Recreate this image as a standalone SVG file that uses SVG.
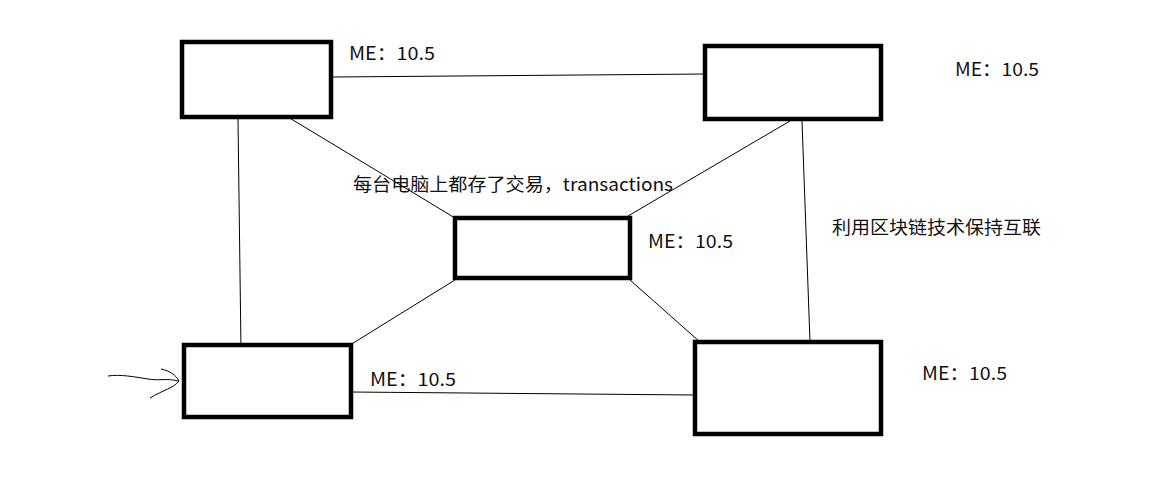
<svg xmlns="http://www.w3.org/2000/svg" width="1165" height="486" viewBox="0 0 1165 486">
<style>
.node{fill:#fff;stroke:#000;stroke-width:4.5}
.conn{stroke:#000;stroke-width:1;fill:none}
.t{font-family:"Noto Sans CJK SC","Microsoft YaHei",sans-serif;font-size:18px;fill:#111}
</style>
<rect width="1165" height="486" fill="#fff"/>
<g id="connectors">
<path class="conn" d="M333,77 L705,74"/>
<path class="conn" d="M238,119 L241,350"/>
<path class="conn" d="M288,117 L455,218"/>
<path class="conn" d="M790,121 L628,216"/>
<path class="conn" d="M802,121 L810,342"/>
<path class="conn" d="M455,280 L350,345"/>
<path class="conn" d="M630,280 L700,342"/>
<path class="conn" d="M351,392 L695,395"/>
<path class="conn" d="M108,376 C120,374 135,377 148,379 C158,381 168,378 178,381"/>
<path class="conn" d="M161,369 C170,371 176,375 179,381 C174,388 163,390 150,398"/>
</g>
<g id="node-tl"><rect class="node" x="182" y="42" width="149" height="75"/></g>
<g id="node-tr"><rect class="node" x="705" y="46" width="176" height="73"/></g>
<g id="node-center"><rect class="node" x="455" y="218" width="175" height="60"/></g>
<g id="node-bl"><rect class="node" x="184" y="345" width="167" height="72"/></g>
<g id="node-br"><rect class="node" x="695" y="342" width="186" height="92"/></g>
<g id="labels">
<text class="t" x="349" y="60" textLength="86" lengthAdjust="spacingAndGlyphs">ME：10.5</text>
<text class="t" x="955" y="76" textLength="84" lengthAdjust="spacingAndGlyphs">ME：10.5</text>
<text class="t" x="648" y="248" textLength="85" lengthAdjust="spacingAndGlyphs">ME：10.5</text>
<text class="t" x="370" y="386" textLength="86" lengthAdjust="spacingAndGlyphs">ME：10.5</text>
<text class="t" x="922" y="380" textLength="85" lengthAdjust="spacingAndGlyphs">ME：10.5</text>
<text class="t" x="353" y="191" textLength="320" lengthAdjust="spacingAndGlyphs">每台电脑上都存了交易，transactions</text>
<text class="t" x="832" y="234" textLength="209" lengthAdjust="spacingAndGlyphs">利用区块链技术保持互联</text>
</g>
</svg>
